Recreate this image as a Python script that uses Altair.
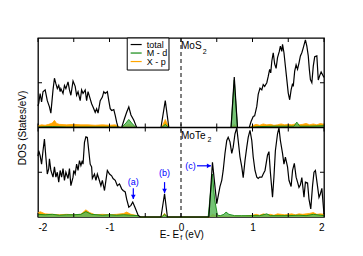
import altair as alt
import pandas as pd

FONT = "Liberation Sans"

# ---------------- MoS2 (top panel) ----------------
mos2_E = [-2.00, -1.99, -1.97, -1.95, -1.93, -1.90, -1.87, -1.84, -1.82, -1.79, -1.77, -1.75, -1.73, -1.71,
          -1.69, -1.68, -1.65, -1.63, -1.61, -1.58, -1.56, -1.54, -1.51, -1.48, -1.46, -1.44, -1.41, -1.39,
          -1.37, -1.34, -1.32, -1.30, -1.27, -1.25, -1.23, -1.20, -1.18, -1.16, -1.13, -1.10, -1.08, -1.06,
          -1.03, -1.01, -0.99, -0.97, -0.94, -0.92, -0.90, -0.88, -0.83, -0.79, -0.76, -0.73, -0.70, -0.66,
          -0.62, -0.28, -0.22, -0.17, 0.70, 0.745, 0.79, 0.955, 0.98, 1.01, 1.03, 1.06, 1.08, 1.105, 1.13,
          1.15, 1.17, 1.20, 1.22, 1.24, 1.255, 1.27, 1.29, 1.31, 1.33, 1.35, 1.375, 1.39, 1.41, 1.42, 1.44,
          1.46, 1.48, 1.50, 1.52, 1.54, 1.56, 1.57, 1.59, 1.61, 1.63, 1.65, 1.67, 1.69, 1.71, 1.74, 1.76,
          1.78, 1.795, 1.81, 1.83, 1.85, 1.87, 1.90, 1.92, 1.94, 1.96, 1.98, 2.00]
mos2_total = [2.4, 2.7, 3.8, 2.85, 4.0, 4.2, 3.0, 2.3, 1.6, 4.2, 5.5, 4.9, 4.35, 4.7,
              4.0, 4.35, 3.8, 4.7, 4.35, 5.1, 4.2, 3.6, 5.2, 4.6, 3.6, 4.0, 3.0, 4.2,
              3.8, 4.2, 3.0, 4.0, 3.2, 2.66, 2.3, 1.7, 2.1, 1.6, 3.0, 3.4, 4.0, 3.8,
              4.0, 3.0, 2.1, 1.9, 2.0, 1.35, 0.6, 0.0, 0.0, 1.0, 1.7, 2.3, 1.4, 0.8,
              0.0, 0.0, 3.0, 0.0, 0.0, 5.65, 0.0, 0.0, 0.67, 1.24, 1.3, 2.36, 3.7, 4.4, 4.2,
              4.8, 4.6, 5.0, 5.7, 6.5, 6.1, 7.4, 8.35, 7.1, 6.6, 7.8, 8.5, 9.1, 8.5, 9.3, 8.35,
              6.85, 5.35, 3.85, 3.1, 4.2, 4.9, 4.6, 6.3, 7.0, 6.5, 7.2, 8.0, 8.35, 8.9, 9.8, 9.1,
              8.0, 6.5, 5.35, 5.0, 6.85, 7.9, 8.0, 5.3, 5.8, 6.2, 5.9, 5.6]

mos2_md_E = [-2.0, -1.8, -1.6, -1.4, -1.2, -1.0, -0.9, -0.83, -0.77, -0.73, -0.69, -0.63, -0.27, -0.22,
             -0.17, 0.70, 0.745, 0.79, 0.95, 1.1, 1.3, 1.5, 1.58, 1.62, 1.66, 1.8, 2.0]
mos2_md = [0.05, 0.1, 0.05, 0.05, 0.05, 0.05, 0.05, 0.0, 0.5, 0.9, 0.5, 0.0, 0.0, 0.35,
           0.0, 0.0, 5.3, 0.0, 0.0, 0.1, 0.15, 0.15, 0.15, 0.6, 0.15, 0.15, 0.2]

mos2_xp_E = [-2.0, -1.95, -1.9, -1.85, -1.8, -1.77, -1.74, -1.7, -1.6, -1.5, -1.4, -1.3, -1.2, -1.1,
             -1.0, -0.92, -0.88, -0.83, -0.77, -0.73, -0.69, -0.63, -0.27, -0.22, -0.17, 0.71, 0.745,
             0.78, 0.96, 1.0, 1.05, 1.1, 1.15, 1.2, 1.25, 1.3, 1.35, 1.4, 1.45, 1.5, 1.55, 1.6, 1.65,
             1.7, 1.75, 1.8, 1.85, 1.9, 1.95, 2.0]
mos2_xp = [0.2, 0.3, 0.25, 0.35, 0.5, 0.8, 0.45, 0.35, 0.3, 0.35, 0.3, 0.3, 0.25, 0.3,
           0.25, 0.3, 0.1, 0.0, 0.25, 0.35, 0.25, 0.0, 0.0, 0.9, 0.0, 0.0, 0.35,
           0.0, 0.0, 0.2, 0.35, 0.25, 0.4, 0.3, 0.35, 0.25, 0.3, 0.4, 0.3, 0.35, 0.3, 0.4, 0.3,
           0.35, 0.45, 0.3, 0.4, 0.3, 0.45, 0.35]

# ---------------- MoTe2 (bottom panel) ----------------
mote2_E = [-2.00, -1.99, -1.97, -1.95, -1.93, -1.91, -1.89, -1.87, -1.85, -1.84, -1.82, -1.79, -1.77, -1.75,
           -1.73, -1.71, -1.69, -1.67, -1.65, -1.63, -1.61, -1.58, -1.56, -1.54, -1.51, -1.50, -1.48, -1.46,
           -1.44, -1.42, -1.40, -1.38, -1.37, -1.35, -1.33, -1.31, -1.29, -1.27, -1.25, -1.24, -1.21, -1.19,
           -1.17, -1.15, -1.12, -1.10, -1.07, -1.05, -1.03, -1.00, -0.97, -0.95, -0.92, -0.89, -0.86, -0.83,
           -0.81, -0.78, -0.76, -0.73, -0.70, -0.675, -0.64, -0.60, -0.57, -0.28, -0.23, -0.19, 0.39, 0.44,
           0.50, 0.545, 0.57, 0.59, 0.615, 0.64, 0.66, 0.685, 0.71, 0.73, 0.755, 0.78, 0.80, 0.825, 0.85,
           0.87, 0.895, 0.92, 0.94, 0.965, 0.99, 1.01, 1.035, 1.06, 1.08, 1.10, 1.13, 1.15, 1.175, 1.21,
           1.23, 1.25, 1.28, 1.30, 1.32, 1.35, 1.37, 1.39, 1.42, 1.44, 1.46, 1.49, 1.51, 1.54, 1.56, 1.585,
           1.61, 1.63, 1.65, 1.67, 1.69, 1.72, 1.74, 1.77, 1.79, 1.815, 1.84, 1.86, 1.88, 1.91, 1.93, 1.95,
           1.97, 2.00]
mote2_total = [6.8, 7.4, 6.85, 5.9, 7.4, 8.7, 6.7, 4.8, 5.4, 6.5, 5.2, 4.45, 5.6, 4.45,
               5.0, 3.9, 5.2, 4.45, 5.4, 4.1, 5.0, 4.3, 5.4, 3.5, 4.45, 5.2, 4.8, 5.9,
               5.2, 6.3, 5.75, 6.3, 5.9, 8.35, 8.96, 8.9, 7.4, 5.9, 5.6, 4.3, 4.8, 4.1,
               4.8, 4.3, 3.5, 4.1, 2.96, 4.1, 5.2, 4.8, 4.6, 4.3, 4.1, 3.5, 3.7, 3.15,
               2.96, 2.8, 2.0, 1.1, 1.3, 1.67, 1.0, 0.2, 0.0, 0.0, 2.6, 0.0, 0.0, 6.1,
               1.5, 3.4, 4.1, 5.2, 7.1, 8.55, 8.9, 8.4, 7.1, 7.8, 9.3, 9.96, 8.55, 6.7, 5.6,
               4.4, 6.3, 7.8, 8.9, 9.67, 8.55, 6.7, 5.2, 4.45, 4.3, 4.45, 4.45, 4.8, 5.2, 6.9,
               7.3, 5.0, 2.2, 4.5, 7.4, 9.3, 9.96, 8.55, 7.1, 5.9, 6.7, 5.6, 4.1, 3.4, 5.2, 6.0,
               4.45, 3.9, 3.3, 3.6, 4.4, 2.2, 3.9, 3.8, 2.0, 0.9, 3.5, 5.0, 5.2, 3.4, 2.2, 2.6,
               3.2, 0.3]

mote2_md_E = [-2.0, -1.9, -1.8, -1.7, -1.6, -1.5, -1.4, -1.33, -1.25, -1.1, -1.0, -0.9, -0.8, -0.7,
              -0.6, -0.57, -0.27, -0.23, -0.19, 0.38, 0.41, 0.44, 0.47, 0.51, 0.55, 0.6, 0.63, 0.67,
              0.75, 0.85, 1.0, 1.1, 1.2, 1.25, 1.4, 1.5, 1.65, 1.75, 1.85, 1.95, 2.0]
mote2_md = [0.3, 0.25, 0.3, 0.2, 0.25, 0.25, 0.3, 0.6, 0.3, 0.2, 0.25, 0.2, 0.25, 0.2,
            0.15, 0.0, 0.0, 0.3, 0.0, 0.0, 2.5, 4.8, 2.0, 0.2, 0.15, 0.3, 0.55, 0.3,
            0.15, 0.15, 0.15, 0.15, 0.35, 0.15, 0.15, 0.15, 0.2, 0.15, 0.3, 0.2, 0.15]

mote2_xp_E = [-2.0, -1.97, -1.9, -1.8, -1.7, -1.6, -1.5, -1.4, -1.33, -1.28, -1.2, -1.1, -1.0, -0.9,
              -0.8, -0.76, -0.7, -0.6, -0.57, -0.27, -0.23, -0.19, 0.4, 0.44, 0.5, 0.6, 0.7, 0.8, 0.9,
              1.0, 1.05, 1.1, 1.15, 1.2, 1.25, 1.3, 1.35, 1.4, 1.45, 1.5, 1.55, 1.6, 1.65, 1.7, 1.75,
              1.8, 1.85, 1.9, 1.95, 2.0]
mote2_xp = [0.45, 0.6, 0.35, 0.3, 0.25, 0.3, 0.25, 0.3, 0.8, 0.5, 0.25, 0.3, 0.25, 0.3,
            0.4, 0.55, 0.3, 0.15, 0.0, 0.0, 0.4, 0.0, 0.0, 0.3, 0.1, 0.1, 0.1, 0.1, 0.1,
            0.2, 0.3, 0.2, 0.35, 0.25, 0.3, 0.2, 0.35, 0.3, 0.25, 0.3, 0.35, 0.25, 0.35, 0.3, 0.35,
            0.4, 0.5, 0.3, 0.35, 0.3]

x_ticks = [-2, -1.5, -1, -0.5, 0, 0.5, 1, 1.5, 2]
x_labels = [-2, -1, 0, 1, 2]
y_ticks = [5, 15]

rows = []
def add(panel, series, es, ds):
    for e, d in zip(es, ds):
        rows.append({"panel": panel, "series": series, "E": e, "D": d})

add("MoS2", "total", mos2_E, mos2_total)
add("MoS2", "M - d", mos2_md_E, mos2_md)
add("MoS2", "X - p", mos2_xp_E, mos2_xp)
add("MoTe2", "total", mote2_E, mote2_total)
add("MoTe2", "M - d", mote2_md_E, mote2_md)
add("MoTe2", "X - p", mote2_xp_E, mote2_xp)
df = pd.DataFrame(rows)

xscale = alt.Scale(domain=[-2, 2], nice=False, zero=False)
yscale = alt.Scale(domain=[0, 20], nice=False, zero=False)

XAX = alt.Axis(values=x_labels, ticks=False, domain=False, grid=False,
               labelExpr="datum.value + ''", labelFont=FONT, labelFontSize=10,
               labelColor="black", labelPadding=5, title=None)
YAX = alt.Axis(labels=False, ticks=False, domain=False, grid=False,
               title="DOS (States/eV)", titleFont=FONT, titleFontSize=10,
               titleFontWeight="normal", titleColor="black", titlePadding=11)

X = alt.X("E:Q", scale=xscale, axis=XAX)
Y = alt.Y("Y:Q", scale=yscale, axis=YAX)
Y2 = alt.Y2("B:Q")


def xd(v):
    return alt.XDatum(v, scale=xscale, axis=XAX)


def yd(v):
    return alt.YDatum(v, scale=yscale, axis=YAX)


base = alt.Chart(df).transform_calculate(
    Y="datum.D + (datum.panel == 'MoS2' ? 10 : 0)",
    B="datum.panel == 'MoS2' ? 10 : 0",
)

xp_area = base.transform_filter("datum.series == 'X - p'").mark_area(
    color="#FFA500", opacity=1).encode(x=X, y=Y, y2=Y2, detail="panel:N")
xp_line = base.transform_filter("datum.series == 'X - p'").mark_line(
    color="#FFA500", strokeWidth=0.8).encode(x=X, y=Y, detail="panel:N")
md_area = base.transform_filter("datum.series == 'M - d'").mark_area(
    color="#5cb85c", opacity=0.85).encode(x=X, y=Y, y2=Y2, detail="panel:N")
md_line = base.transform_filter("datum.series == 'M - d'").mark_line(
    color="#138a13", strokeWidth=0.9).encode(x=X, y=Y, detail="panel:N")
tot_line = base.transform_filter("datum.series == 'total'").mark_line(
    color="black", strokeWidth=1.2).encode(x=X, y=Y, detail="panel:N")

one = pd.DataFrame({"a": [0]})
xt = pd.DataFrame({"E": x_ticks})
yt = pd.DataFrame({"Y": y_ticks})

tick_bot = alt.Chart(xt).mark_rule(color="black", strokeWidth=1, y2Offset=-4).encode(
    x=X, y=yd(0), y2=alt.datum(0))
tick_top = alt.Chart(xt).mark_rule(color="black", strokeWidth=1, y2Offset=4).encode(
    x=X, y=yd(20), y2=alt.datum(20))
tick_mid = alt.Chart(xt).mark_rule(color="black", strokeWidth=1, yOffset=-4, y2Offset=4).encode(
    x=X, y=yd(10), y2=alt.datum(10))
tick_left = alt.Chart(yt).mark_rule(color="black", strokeWidth=1, x2Offset=4).encode(
    y=alt.Y("Y:Q", scale=yscale, axis=YAX), x=xd(-2), x2=alt.datum(-2))
tick_right = alt.Chart(yt).mark_rule(color="black", strokeWidth=1, x2Offset=-4).encode(
    y=alt.Y("Y:Q", scale=yscale, axis=YAX), x=xd(2), x2=alt.datum(2))

sep = alt.Chart(one).mark_rule(color="black", strokeWidth=1.3).encode(
    x=xd(-2), x2=alt.datum(2), y=yd(10))
zero = alt.Chart(one).mark_rule(color="black", strokeWidth=1, strokeDash=[4, 3]).encode(
    x=xd(0), y=yd(0), y2=alt.datum(20))


def txt(t, e, y, size=10, color="black", align="left", baseline="middle"):
    return alt.Chart(one).mark_text(text=t, fontSize=size, color=color, align=align,
                                    baseline=baseline, font=FONT).encode(x=xd(e), y=yd(y))


def arrow_v(e, y1, y2):
    shaft = alt.Chart(one).mark_rule(color="blue", strokeWidth=1.2).encode(
        x=xd(e), y=yd(y1), y2=alt.datum(y2))
    head = alt.Chart(one).mark_point(shape="triangle-down", filled=True, color="blue",
                                     size=22, opacity=1).encode(x=xd(e), y=yd(y2 + 0.25))
    return shaft + head


def arrow_h(e1, e2, y):
    shaft = alt.Chart(one).mark_rule(color="blue", strokeWidth=1.2).encode(
        x=xd(e1), x2=alt.datum(e2), y=yd(y))
    head = alt.Chart(one).mark_point(shape="triangle-right", filled=True, color="blue",
                                     size=22, opacity=1).encode(x=xd(e2 - 0.03), y=yd(y))
    return shaft + head


legend_box = alt.Chart(one).mark_rect(fill="white", stroke="black", strokeWidth=1).encode(
    x=xd(-0.752), x2=alt.datum(-0.168), y=yd(20), y2=alt.datum(16.42))


def leg_line(y, color):
    return alt.Chart(one).mark_rule(color=color, strokeWidth=1.2).encode(
        x=xd(-0.704), x2=alt.datum(-0.55), y=yd(y))


layers = [
    xp_area, xp_line, md_area, md_line, tot_line,
    sep, zero, tick_bot, tick_top, tick_mid, tick_left, tick_right,
    legend_box,
    leg_line(19.27, "black"), leg_line(18.32, "#138a13"), leg_line(17.37, "#FFA500"),
    txt("total", -0.48, 19.27, size=9), txt("M - d", -0.48, 18.32, size=9), txt("X - p", -0.48, 17.37, size=9),
    txt("MoS", 0.0, 19.1, size=10), txt("2", 0.305, 18.45, size=7),
    txt("MoTe", 0.0, 9.1, size=10), txt("2", 0.37, 8.6, size=7),
    txt("(a)", -0.667, 3.9, size=9, color="blue", align="center"),
    txt("(b)", -0.23, 4.94, size=9, color="blue", align="center"),
    txt("(c)", 0.133, 5.72, size=9, color="blue", align="center"),
    arrow_v(-0.667, 3.22, 2.0), arrow_v(-0.23, 3.9, 2.67), arrow_h(0.224, 0.42, 5.72),
    txt("E- E", -0.024, -2.0, size=10, align="right"),
    txt("f", -0.012, -2.35, size=7),
    txt("(eV)", 0.056, -2.0, size=10),
]

chart = alt.layer(*layers).properties(
    width=286, height=179,
    autosize=alt.AutoSizeParams(type="none"),
    padding={"left": 30, "top": 30, "right": 30, "bottom": 38},
).configure_view(stroke="black", strokeWidth=1.3)

chart.save("out.html", embed_options={"renderer": "svg", "actions": False})
